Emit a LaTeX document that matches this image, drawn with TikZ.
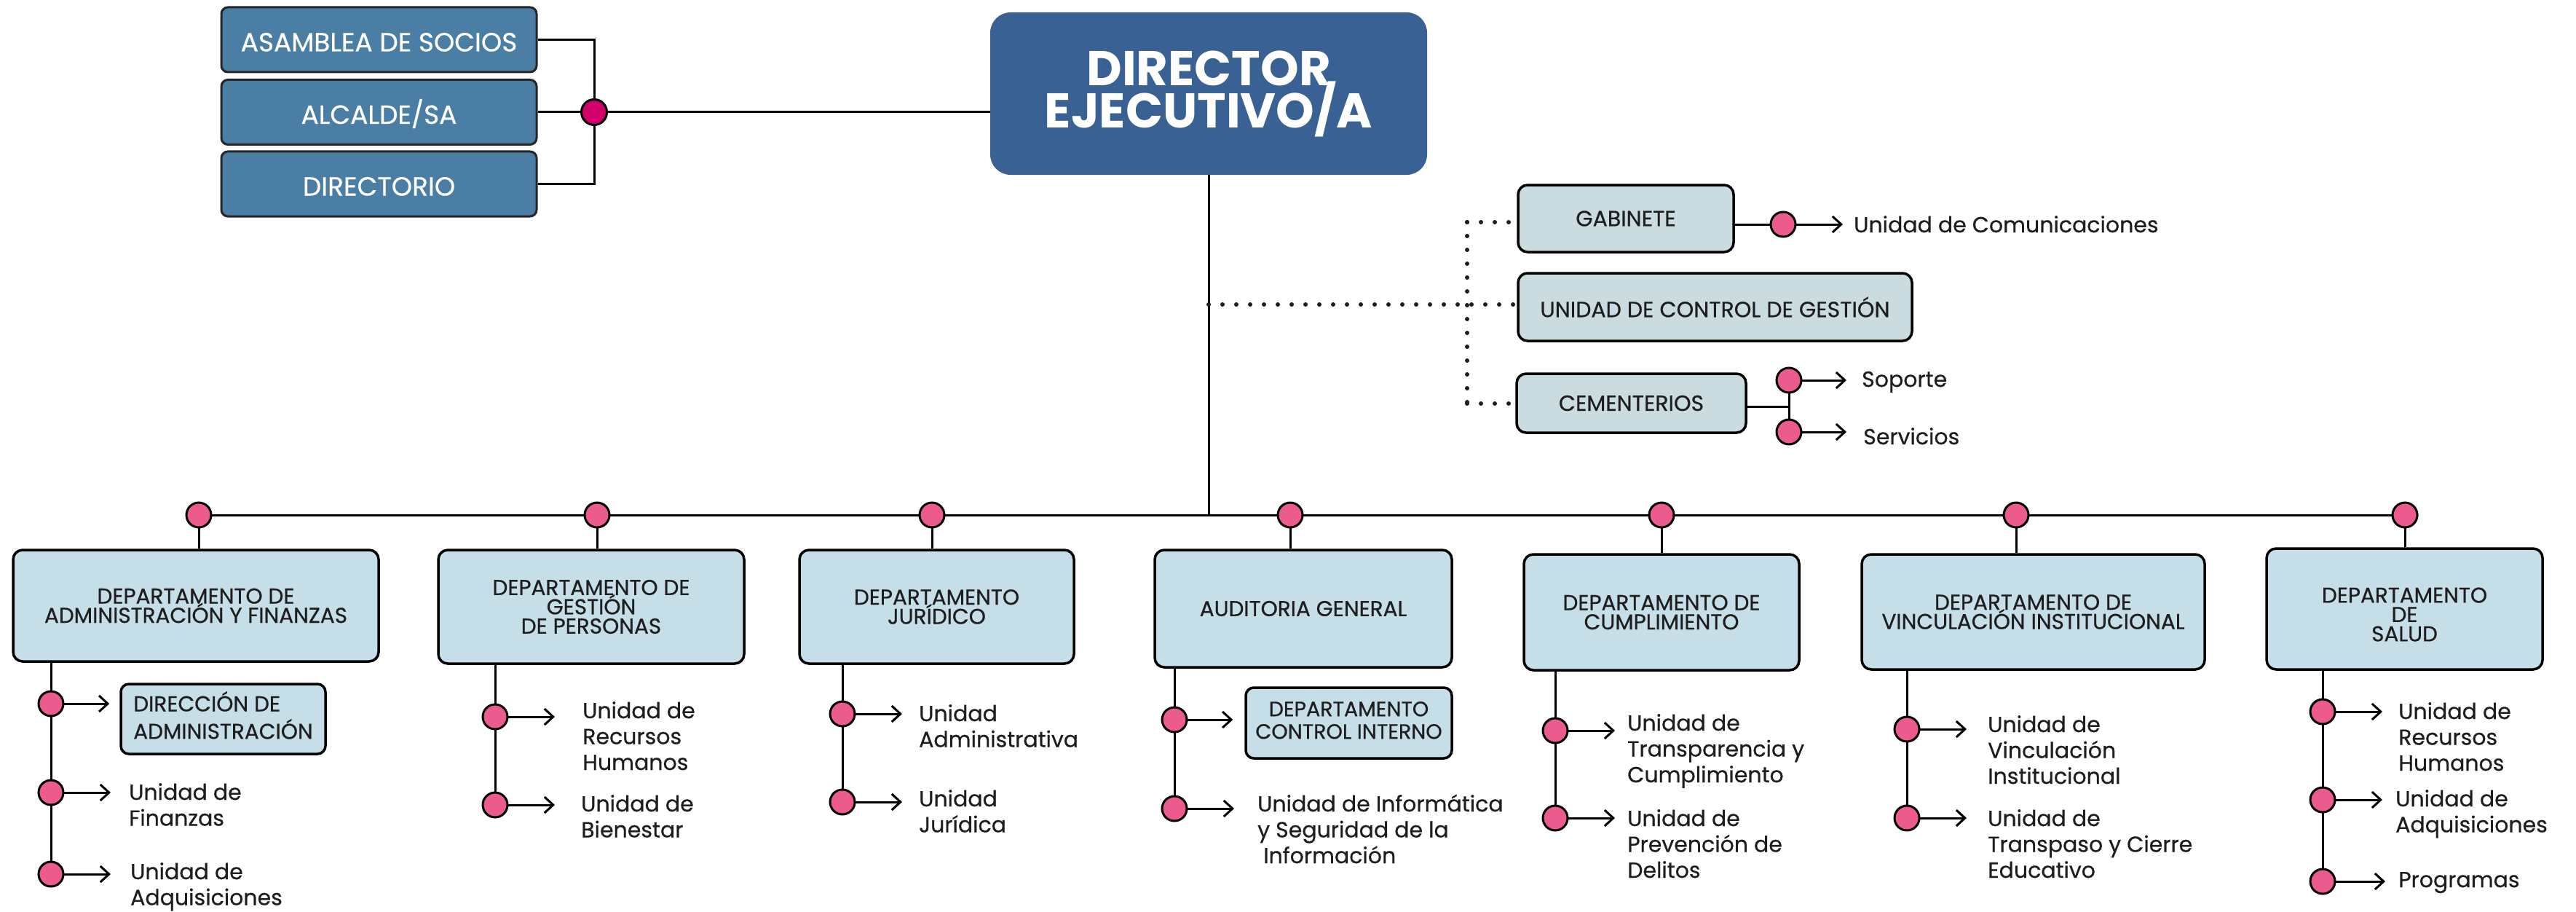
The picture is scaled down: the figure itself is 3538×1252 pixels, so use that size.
\documentclass[tikz,border=0pt]{standalone}
\usepackage{fontspec}
\setmainfont{Poppins}
\newfontfamily\myMed{Poppins}[FakeBold=0.6]
\usetikzlibrary{arrows.meta,backgrounds}
\definecolor{topbox}{HTML}{4A7EA5}
\definecolor{dirbox}{HTML}{3A6194}
\definecolor{deptfill}{HTML}{C5DEE8}
\definecolor{sidefill}{HTML}{CBDCE1}
\definecolor{pinkc}{HTML}{EC5B8D}
\definecolor{magc}{HTML}{D1006B}
\definecolor{txt}{HTML}{1E1E1E}
\newcommand{\myLs}[1]{\begin{tabular}[t]{@{}l@{}}#1\end{tabular}}
\newcommand{\myLc}[1]{\begin{tabular}[t]{@{}c@{}}#1\end{tabular}}
\newcommand\myFsub{\myMed\fontsize{30}{35.5}\selectfont}
\newcommand\myFdept{\myMed\fontsize{29.5}{26.5}\selectfont\lineskiplimit=-100pt}
\newcommand\myFtop{\myMed\fontsize{36}{40}\selectfont}
\newcommand\myFdir{\fontsize{67}{58}\selectfont\bfseries\lineskiplimit=-100pt}
\newcommand\myFside{\myMed\fontsize{30}{32}\selectfont}
\newcommand\myFci{\myMed\fontsize{28.5}{31}\selectfont}
\newcommand\myFda{\myMed\fontsize{29.5}{35}\selectfont}
\begin{document}
\begin{tikzpicture}[x=1pt,y=-1pt,
  ln/.style={line width=3pt, draw=black},
  arr/.style={line width=3pt, draw=black, -{Straight Barb[length=12pt,width=22pt,line width=3pt]}},
  dots/.style={line width=6pt, line cap=round, dash pattern=on 0pt off 19pt, draw=txt},
  topb/.style={draw=black!85, line width=3pt, fill=topbox, rounded corners=9pt, text=white, font=\myFtop, minimum width=433pt, minimum height=89pt, inner sep=0pt, text height=32pt, text depth=0pt},
  dirb/.style={fill=dirbox, rounded corners=28pt, text=white, font=\myFdir, align=center, minimum width=600pt, minimum height=223pt, inner sep=0pt},
  dept/.style={draw=black, line width=3.5pt, fill=deptfill, rounded corners=13pt, text=txt, font=\myFdept, align=center, inner sep=0pt},
  side/.style={draw=black, line width=3.5pt, fill=sidefill, rounded corners=13pt, text=txt, font=\myFside, inner sep=0pt},
  subbox/.style={draw=black, line width=3.5pt, fill=deptfill, rounded corners=11pt, text=txt, inner sep=0pt},
  pc/.style={circle, draw=black, line width=3pt, fill=pinkc, minimum size=34pt, inner sep=0pt},
  jc/.style={circle, draw=black, line width=3pt, fill=magc, minimum size=35pt, inner sep=0pt},
  lbl/.style={anchor=base west, inner sep=0pt, font=\myFsub, text=txt},
]
\useasboundingbox (0,0) rectangle (3538,1252);

% ---------- top ----------
\node[topb] (as) at (520.5,54.5) {ASAMBLEA DE SOCIOS};
\node[topb] (al) at (520.5,154) {ALCALDE/SA};
\node[topb] (di) at (520.5,252.5) {DIRECTORIO};
\node[jc] (j) at (816,154) {};
\node[dirb] (dir) at (1660,128.5) {DIRECTOR\\EJECUTIVO/A};
\coordinate (bj) at (1660,707);
\coordinate (dj) at (1660,418);

% ---------- staff boxes ----------
\node[side, minimum width=296pt, minimum height=92pt] (gab) at (2233,300) {GABINETE};
\node[side, minimum width=541pt, minimum height=93pt] (ucg) at (2355.5,421.5) {UNIDAD DE CONTROL DE GESTIÓN};
\node[side, minimum width=315pt, minimum height=81pt] (cem) at (2240.5,553.5) {CEMENTERIOS};
\coordinate (dv1) at (2015,305);
\coordinate (dv2) at (2015,554);
\node[pc] (gc) at (2449,308) {};
\node[lbl] (gl) at (2546,319) {Unidad de Comunicaciones};
\coordinate (cj) at (2457,558);
\node[pc] (cs1) at (2457,522) {};
\node[pc] (cs2) at (2457,593) {};
\node[lbl] (csl1) at (2557,531) {Soporte};
\node[lbl] (csl2) at (2559,610) {Servicios};

% ---------- bus circles ----------
\node[pc] (c1) at (273,707) {};
\node[pc] (c2) at (820,707) {};
\node[pc] (c3) at (1280,707) {};
\node[pc] (c4) at (1772,707) {};
\node[pc] (c5) at (2282,707) {};
\node[pc] (c6) at (2769,707) {};
\node[pc] (c7) at (3303,707) {};

% ---------- departments ----------
\node[dept, minimum width=502pt, minimum height=153pt] (d1) at (269,831.5) {DEPARTAMENTO DE\\ADMINISTRACIÓN Y FINANZAS};
\node[dept, minimum width=420pt, minimum height=156pt] (d2) at (812,833) {DEPARTAMENTO DE\\GESTIÓN\\DE PERSONAS};
\node[dept, minimum width=377pt, minimum height=156pt] (d3) at (1286.5,833) {DEPARTAMENTO\\JURÍDICO};
\node[dept, minimum width=408pt, minimum height=161pt] (d4) at (1790,835.5) {AUDITORIA GENERAL};
\node[dept, minimum width=378pt, minimum height=159pt] (d5) at (2282,840.5) {DEPARTAMENTO DE\\CUMPLIMIENTO};
\node[dept, minimum width=471pt, minimum height=158pt] (d6) at (2792.5,840) {DEPARTAMENTO DE\\VINCULACIÓN INSTITUCIONAL};
\node[dept, minimum width=379pt, minimum height=166pt] (d7) at (3302.5,836) {\rule{0pt}{36pt}DEPARTAMENTO\\DE\\SALUD};

% D1
\node[pc] (d1a) at (70,966) {};
\node[pc] (d1b) at (70,1088) {};
\node[pc] (d1c) at (70,1200) {};
\node[subbox, font=\myFda, minimum width=281pt, minimum height=96pt] (d1al) at (306.5,987) {\myLs{DIRECCIÓN DE\\ADMINISTRACIÓN}};
\node[lbl] (d1bl) at (177,1098) {\myLs{Unidad de\\Finanzas}};
\node[lbl] (d1cl) at (179,1207) {\myLs{Unidad de\\Adquisiciones}};
% D2
\node[pc] (d2a) at (680,984) {};
\node[pc] (d2b) at (680,1105) {};
\node[lbl] (d2al) at (800,986) {\myLs{Unidad de\\Recursos\\Humanos}};
\node[lbl] (d2bl) at (798,1114) {\myLs{Unidad de\\Bienestar}};
% D3
\node[pc] (d3a) at (1157,980) {};
\node[pc] (d3b) at (1157,1101) {};
\node[lbl] (d3al) at (1262,990) {\myLs{Unidad\\Administrativa}};
\node[lbl] (d3bl) at (1262,1107) {\myLs{Unidad\\Jurídica}};
% D4
\node[pc] (d4a) at (1613,988) {};
\node[pc] (d4b) at (1613,1110) {};
\node[subbox, font=\myFci, minimum width=283pt, minimum height=97pt] (d4al) at (1852.5,992.5) {\myLc{DEPARTAMENTO\\CONTROL INTERNO}};
\node[lbl] (d4bl) at (1727,1114) {\myLs{Unidad de Informática\\y Seguridad de la\\\hspace{8pt}Información}};
% D5
\node[pc] (d5a) at (2136,1003) {};
\node[pc] (d5b) at (2136,1123) {};
\node[lbl] (d5al) at (2235,1003) {\myLs{Unidad de\\Transparencia y\\Cumplimiento}};
\node[lbl] (d5bl) at (2235,1134) {\myLs{Unidad de\\Prevención de\\Delitos}};
% D6
\node[pc] (d6a) at (2619,1001) {};
\node[pc] (d6b) at (2619,1123) {};
\node[lbl] (d6al) at (2730,1005) {\myLs{Unidad de\\Vinculación\\Institucional}};
\node[lbl] (d6bl) at (2730,1134) {\myLs{Unidad de\\Transpaso y Cierre\\Educativo}};
% D7
\node[pc] (d7a) at (3190,977) {};
\node[pc] (d7b) at (3190,1098) {};
\node[pc] (d7c) at (3190,1210) {};
\node[lbl] (d7al) at (3294,987) {\myLs{Unidad de\\Recursos\\Humanos}};
\node[lbl] (d7bl) at (3290,1107) {\myLs{Unidad de\\Adquisiciones}};
\node[lbl] (d7cl) at (3294,1218) {Programas};

\begin{scope}[on background layer]
  % top
  \draw[ln] (as.east) -| (j.center);
  \draw[ln] (di.east) -| (j.center);
  \draw[ln] (al.east) -- (j.center);
  \draw[ln] (j.center) -- (dir.west |- j.center);
  \draw[ln] (dir.south) -- (bj);
  % staff dotted
  \draw[dots] (dj) -- (ucg.west |- dj);
  \draw[dots] (dv1) -- (dv2);
  \draw[dots] (dv1) -- (gab.west |- dv1);
  \draw[dots] (dv2) -- (cem.west |- dv2);
  \draw[ln] (gab.east |- gc) -- (gc);
  \draw[arr, shorten >=15pt] (gc.center) -- (gc -| gl.west);
  \draw[ln] (cem.east |- cj) -- (cj);
  \draw[ln] (cs1.center) -- (cs2.center);
  \draw[arr, shorten >=21pt] (cs1.center) -- (cs1 -| csl1.west);
  \draw[arr, shorten >=23pt] (cs2.center) -- (cs2 -| csl2.west);
  % bus
  \draw[ln] (c1.center) -- (c7.center);
  \foreach \c/\d in {c1/d1,c2/d2,c3/d3,c4/d4,c5/d5,c6/d6,c7/d7}
    \draw[ln] (\c.center) -- (\c |- \d.north);
  % D1
  \draw[ln] (d1.south -| d1a) -- (d1c.center);
  \draw[arr, shorten >=14pt] (d1a.center) -- (d1a -| d1al.west);
  \draw[arr, shorten >=25pt] (d1b.center) -- (d1b -| d1bl.west);
  \draw[arr, shorten >=27pt] (d1c.center) -- (d1c -| d1cl.west);
  % D2
  \draw[ln] (d2.south -| d2a) -- (d2b.center);
  \draw[arr, shorten >=38pt] (d2a.center) -- (d2a -| d2al.west);
  \draw[arr, shorten >=36pt] (d2b.center) -- (d2b -| d2bl.west);
  % D3
  \draw[ln] (d3.south -| d3a) -- (d3b.center);
  \draw[arr, shorten >=23pt] (d3a.center) -- (d3a -| d3al.west);
  \draw[arr, shorten >=23pt] (d3b.center) -- (d3b -| d3bl.west);
  % D4
  \draw[ln] (d4.south -| d4a) -- (d4b.center);
  \draw[arr, shorten >=16pt] (d4a.center) -- (d4a -| d4al.west);
  \draw[arr, shorten >=32pt] (d4b.center) -- (d4b -| d4bl.west);
  % D5
  \draw[ln] (d5.south -| d5a) -- (d5b.center);
  \draw[arr, shorten >=17pt] (d5a.center) -- (d5a -| d5al.west);
  \draw[arr, shorten >=17pt] (d5b.center) -- (d5b -| d5bl.west);
  % D6
  \draw[ln] (d6.south -| d6a) -- (d6b.center);
  \draw[arr, shorten >=29pt] (d6a.center) -- (d6a -| d6al.west);
  \draw[arr, shorten >=29pt] (d6b.center) -- (d6b -| d6bl.west);
  % D7
  \draw[ln] (d7.south -| d7a) -- (d7c.center);
  \draw[arr, shorten >=22pt] (d7a.center) -- (d7a -| d7al.west);
  \draw[arr, shorten >=18pt] (d7b.center) -- (d7b -| d7bl.west);
  \draw[arr, shorten >=18pt] (d7c.center) -- (d7c -| d7cl.west);
\end{scope}
\end{tikzpicture}
\end{document}
